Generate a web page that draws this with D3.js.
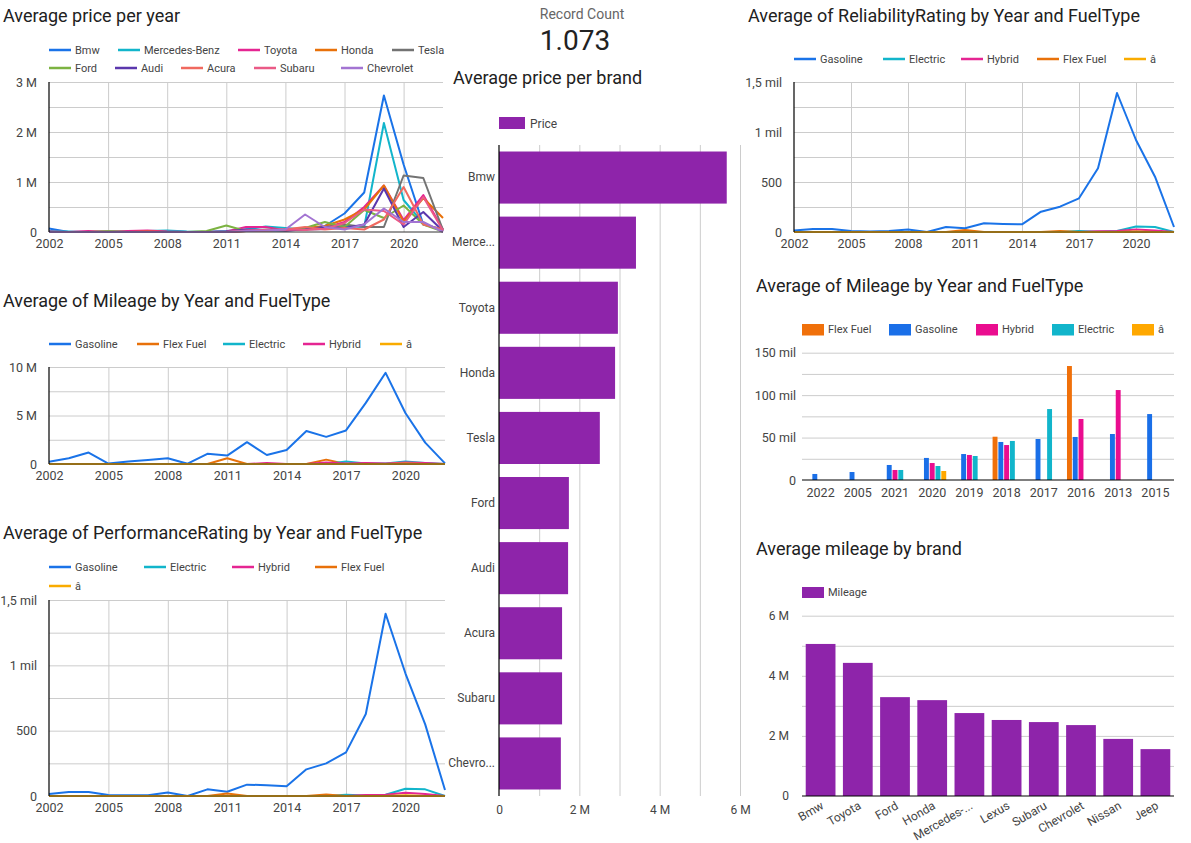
<!DOCTYPE html>
<html><head><meta charset="utf-8">
<script src="https://cdn.jsdelivr.net/npm/d3@7"></script>
<style>
body{margin:0;background:#fff}
svg{display:block;font-family:Roboto, "Noto Sans", sans-serif}
</style>
</head><body>
<svg id="c" width="1191" height="843"></svg>
<script>
// ---------- data ----------
const years = [2002,2003,2004,2005,2006,2007,2008,2009,2010,2011,2012,2013,2014,2015,2016,2017,2018,2019,2020,2021,2022];
const yearTicks = [2002,2005,2008,2011,2014,2017,2020];
const oddFuel = "\u00e2\u0080\u0093";

// Average price per year (millions)
const priceBrands = ["Bmw","Mercedes-Benz","Toyota","Honda","Tesla","Ford","Audi","Acura","Subaru","Chevrolet"];
const priceBmw      = [0.07,0.00,0.00,0.01,0.00,0.01,0.02,0.00,0.00,0.01,0.05,0.03,0.03,0.05,0.12,0.37,0.79,2.73,1.35,0.15,0.05];
const priceMercedes = [0.02,0.01,0.00,0.01,0.01,0.02,0.03,0.01,0.00,0.02,0.05,0.11,0.08,0.05,0.06,0.12,0.10,2.18,0.64,0.17,0.02];
const priceToyota   = [0.01,0.00,0.02,0.00,0.02,0.03,0.01,0.00,0.00,0.01,0.10,0.10,0.03,0.06,0.08,0.20,0.50,0.93,0.24,0.74,0.05];
const priceHonda    = [0.00,0.00,0.00,0.01,0.00,0.01,0.00,0.00,0.00,0.00,0.02,0.03,0.05,0.08,0.12,0.25,0.45,0.93,0.20,0.68,0.28];
const priceTesla    = [0.00,0.00,0.00,0.00,0.00,0.00,0.00,0.00,0.00,0.00,0.02,0.05,0.04,0.06,0.10,0.15,0.10,0.10,1.13,1.08,0.04];
const priceFord     = [0.00,0.00,0.00,0.01,0.00,0.00,0.00,0.00,0.02,0.13,0.02,0.04,0.03,0.08,0.20,0.10,0.44,0.28,0.53,0.15,0.01];
const priceAudi     = [0.00,0.00,0.00,0.00,0.00,0.00,0.00,0.00,0.00,0.01,0.05,0.04,0.03,0.05,0.10,0.08,0.15,0.87,0.10,0.40,0.02];
const priceAcura    = [0.00,0.00,0.00,0.00,0.00,0.00,0.00,0.00,0.00,0.00,0.02,0.03,0.05,0.10,0.05,0.08,0.05,0.25,0.90,0.15,0.05];
const priceSubaru   = [0.00,0.00,0.00,0.00,0.00,0.00,0.00,0.00,0.00,0.00,0.03,0.04,0.05,0.04,0.06,0.18,0.45,0.42,0.15,0.70,0.03];
const priceChevrolet= [0.00,0.00,0.00,0.00,0.00,0.00,0.00,0.00,0.00,0.00,0.02,0.03,0.05,0.35,0.10,0.05,0.15,0.47,0.20,0.20,0.00];
const priceBrandColors = ["#1a73e8","#12b5cb","#e52592","#e8710a","#737373","#7cb342","#5b37ad","#f0695f","#ea5a86","#a374d2"];

// Mileage by year and fuel type (millions)
const mileGas  = [0.24,0.60,1.18,0.05,0.25,0.42,0.60,0.03,1.05,0.87,2.25,0.93,1.45,3.40,2.80,3.46,6.30,9.40,5.26,2.20,0.07];
const mileFlex = [0,0,0,0,0,0,0,0,0,0.60,0,0,0,0,0.45,0,0,0,0,0,0];
const mileElec = [0,0,0,0,0,0,0,0,0,0,0,0,0,0,0,0.25,0.05,0.05,0.25,0.10,0];
const mileHyb  = [0,0,0,0,0,0,0,0,0,0,0,0.10,0,0,0.15,0.05,0.10,0.05,0.15,0.10,0];
const mileOdd  = [0,0,0,0,0,0,0,0,0,0,0,0,0,0,0,0,0,0,0.05,0,0];

// Performance rating by year and fuel type
const perfGas  = [15,31,31,8,5,5,26,0,51,33,87,82,74,204,250,334,628,1395,939,548,46];
const perfElec = [0,0,0,0,0,0,0,0,0,0,0,0,0,0,0,10,3,10,56,51,0];
const perfHyb  = [0,0,0,0,0,0,0,0,0,0,0,0,0,0,0,0,8,10,25,15,0];
const perfFlex = [0,0,0,0,0,0,0,0,0,20,0,0,0,0,12,0,0,0,0,0,0];
const perfOdd  = [0,0,0,0,0,0,0,0,0,0,0,0,0,0,0,0,0,0,5,0,0];

// Reliability rating by year and fuel type
const relGas  = [15,30,30,10,5,10,25,0,50,37,87,80,77,203,253,337,637,1390,920,553,50];
const relElec = [0,0,0,0,0,0,0,0,0,0,0,0,0,0,0,10,3,10,55,50,0];
const relHyb  = [0,0,0,0,0,0,0,0,0,0,0,0,0,0,0,0,8,10,25,15,0];
const relFlex = [0,0,0,0,0,0,0,0,0,20,0,0,0,0,10,0,0,0,0,0,0];
const relOdd  = [0,0,0,0,0,0,0,0,0,0,0,0,0,0,0,0,0,0,5,0,0];

// Record count
const recordCount = "1.073";

// Average price per brand (millions)
const barBrands = ["Bmw","Merce...","Toyota","Honda","Tesla","Ford","Audi","Acura","Subaru","Chevro..."];
const barPrices = [5.67,3.41,2.96,2.89,2.51,1.74,1.72,1.57,1.57,1.54];

// Average mileage by year and fuel type (thousands)
const groupYears = ["2022","2005","2021","2020","2019","2018","2017","2016","2013","2015"];
const groupFuels = ["Flex Fuel","Gasoline","Hybrid","Electric",oddFuel];
const groupFlex = [null,null,null,null,null,51,null,134.3,null,null];
const groupGas  = [7.1,9.4,17.7,26,30.6,44.8,48.3,50.7,54.2,77.7];
const groupHyb  = [null,null,11.8,20,29.5,41.2,null,71.9,106,null];
const groupElec = [null,null,11.8,16.5,28.3,46,83.6,null,null,null];
const groupOdd  = [null,null,null,10.6,null,null,null,null,null,null];
const groupColors = ["#f0700a","#1a6fe8","#ea0d8f","#12b5cb","#ffa800"];

// Average mileage by brand (millions)
const mileBrands = ["Bmw","Toyota","Ford","Honda","Mercedes-...","Lexus","Subaru","Chevrolet","Nissan","Jeep"];
const mileBrandVals = [5.06,4.43,3.29,3.19,2.76,2.53,2.46,2.36,1.90,1.56];

const purple = "#8e24aa";
const fuelColors = {"Gasoline":"#1a73e8","Electric":"#12b5cb","Hybrid":"#e52592","Flex Fuel":"#e8710a"};
fuelColors[oddFuel] = "#f9ab00";

// ---------- drawing ----------
const svg = d3.select("#c");
svg.append("rect").attr("width",1191).attr("height",843).attr("fill","#fff");
const GRID = "#cccccc", TXT = "#444", TITLE = "#212121";

function title(text,x,y){
  svg.append("text").attr("x",x).attr("y",y).attr("dominant-baseline","central")
    .attr("font-size",18).attr("fill",TITLE).text(text);
}

function lineLegend(items, positions){
  items.forEach((it,i)=>{
    const [lx,ly] = positions[i];
    svg.append("line").attr("x1",lx).attr("x2",lx+22).attr("y1",ly).attr("y2",ly)
      .attr("stroke",it.color).attr("stroke-width",2.5);
    svg.append("text").attr("x",lx+26).attr("y",ly).attr("dominant-baseline","central")
      .attr("font-size",11).attr("fill",TXT).text(it.name);
  });
}

function lineChart(c){
  const x = d3.scaleLinear().domain([years[0], years[years.length-1]]).range([c.x0,c.x1]);
  const y = d3.scaleLinear().domain([0,c.yMax]).range([c.yBot,c.yTop]);
  const g = svg.append("g");
  // horizontal grid
  g.append("g").attr("transform",`translate(${c.x0},0)`)
    .call(d3.axisLeft(y).tickValues(c.gridVals).tickSize(-(c.x1-c.x0)).tickFormat(""))
    .call(s=>{s.select(".domain").remove(); s.selectAll("line").attr("stroke",GRID);});
  // vertical grid
  g.append("g").attr("transform",`translate(0,${c.yTop})`)
    .call(d3.axisBottom(x).tickValues(yearTicks.slice(1)).tickSize(c.yBot-c.yTop).tickFormat(""))
    .call(s=>{s.select(".domain").remove(); s.selectAll("line").attr("stroke",GRID);});
  // y labels
  g.append("g").attr("transform",`translate(${c.x0},0)`)
    .call(d3.axisLeft(y).tickValues(c.labelVals).tickSize(0).tickPadding(12).tickFormat(c.yFmt))
    .call(s=>{s.select(".domain").remove(); s.selectAll("text").attr("font-size",12.5).attr("fill",TXT).attr("font-family","Roboto");});
  // x labels
  g.append("g").attr("transform",`translate(0,${c.yBot})`)
    .call(d3.axisBottom(x).tickValues(yearTicks).tickSize(0).tickPadding(7).tickFormat(d3.format("d")))
    .call(s=>{s.select(".domain").remove(); s.selectAll("text").attr("font-size",12.5).attr("fill",TXT).attr("font-family","Roboto");});
  // series
  const line = d3.line().x((d,i)=>x(years[i])).y(d=>y(d));
  c.series.forEach(s=>{
    g.append("path").attr("d",line(s.values)).attr("fill","none")
      .attr("stroke",s.color).attr("stroke-width",2).attr("stroke-linejoin","round");
  });
  // baseline + left axis
  g.append("line").attr("x1",c.x0).attr("x2",c.x1).attr("y1",c.yBot).attr("y2",c.yBot).attr("stroke","#333").attr("stroke-width",1);
  g.append("line").attr("x1",c.x0).attr("x2",c.x0).attr("y1",c.yTop).attr("y2",c.yBot).attr("stroke","#000").attr("stroke-width",1.2);
  lineLegend(c.series, c.legend);
}

const fmtM = d => d===0 ? "0" : d + " M";
const fmtMil = d => d===0 ? "0" : (d>=1000 ? String(d/1000).replace(".",",")+" mil" : String(d));

// Chart 1: Average price per year
title("Average price per year",3,15);
const priceSeriesVals = [priceBmw,priceMercedes,priceToyota,priceHonda,priceTesla,priceFord,priceAudi,priceAcura,priceSubaru,priceChevrolet];
lineChart({x0:49,x1:443,yTop:82,yBot:232,yMax:3,gridVals:[0.5,1,1.5,2,2.5,3],labelVals:[0,1,2,3],yFmt:fmtM,
  series: priceBrands.map((b,i)=>({name:b,values:priceSeriesVals[i],color:priceBrandColors[i]})),
  legend:[[49,50],[118,50],[238,50],[315,50],[392,50],[49,68],[115,68],[181,68],[254,68],[341,68]]});

// Chart 2: Average of Mileage by Year and FuelType
title("Average of Mileage by Year and FuelType",3,300);
lineChart({x0:49,x1:445,yTop:367,yBot:464,yMax:10,gridVals:[2.5,5,7.5,10],labelVals:[0,5,10],yFmt:fmtM,
  series:[{name:"Gasoline",values:mileGas,color:fuelColors["Gasoline"]},
          {name:"Flex Fuel",values:mileFlex,color:fuelColors["Flex Fuel"]},
          {name:"Electric",values:mileElec,color:fuelColors["Electric"]},
          {name:"Hybrid",values:mileHyb,color:fuelColors["Hybrid"]},
          {name:oddFuel,values:mileOdd,color:fuelColors[oddFuel]}],
  legend:[[49,344],[137,344],[223,344],[303,344],[380,344]]});

// Chart 3: Average of PerformanceRating
title("Average of PerformanceRating by Year and FuelType",3,532);
lineChart({x0:49,x1:445,yTop:600,yBot:796,yMax:1500,gridVals:[250,500,750,1000,1250,1500],labelVals:[0,500,1000,1500],yFmt:fmtMil,
  series:[{name:"Gasoline",values:perfGas,color:fuelColors["Gasoline"]},
          {name:"Electric",values:perfElec,color:fuelColors["Electric"]},
          {name:"Hybrid",values:perfHyb,color:fuelColors["Hybrid"]},
          {name:"Flex Fuel",values:perfFlex,color:fuelColors["Flex Fuel"]},
          {name:oddFuel,values:perfOdd,color:fuelColors[oddFuel]}],
  legend:[[49,567],[144,567],[232,567],[315,567],[49,586]]});

// Chart 4: Reliability
title("Average of ReliabilityRating by Year and FuelType",748,15);
lineChart({x0:794,x1:1174,yTop:82,yBot:232,yMax:1500,gridVals:[250,500,750,1000,1250,1500],labelVals:[0,500,1000,1500],yFmt:fmtMil,
  series:[{name:"Gasoline",values:relGas,color:fuelColors["Gasoline"]},
          {name:"Electric",values:relElec,color:fuelColors["Electric"]},
          {name:"Hybrid",values:relHyb,color:fuelColors["Hybrid"]},
          {name:"Flex Fuel",values:relFlex,color:fuelColors["Flex Fuel"]},
          {name:oddFuel,values:relOdd,color:fuelColors[oddFuel]}],
  legend:[[794,59],[883,59],[961,59],[1037,59],[1124,59]]});

// Record count
svg.append("text").attr("x",582).attr("y",14).attr("text-anchor","middle").attr("dominant-baseline","central")
  .attr("font-size",14).attr("fill","#666").text("Record Count");
svg.append("text").attr("x",575).attr("y",40).attr("text-anchor","middle").attr("dominant-baseline","central")
  .attr("font-size",28).attr("fill","#222").text(recordCount);

// Average price per brand (horizontal bars)
title("Average price per brand",453,77);
{
  const x = d3.scaleLinear().domain([0,6]).range([499,740]);
  const y = d3.scaleBand().domain(barBrands).range([145,796]).paddingInner(0.2).paddingOuter(0.1);
  svg.append("g").attr("transform","translate(0,145)")
    .call(d3.axisBottom(x).tickValues([1,2,3,4,5,6]).tickSize(651).tickFormat(""))
    .call(s=>{s.select(".domain").remove(); s.selectAll("line").attr("stroke",GRID);});
  svg.append("g").selectAll("rect").data(barPrices).join("rect")
    .attr("x",x(0)).attr("y",(d,i)=>y(barBrands[i])).attr("width",d=>x(d)-x(0)).attr("height",y.bandwidth())
    .attr("fill",purple);
  svg.append("g").attr("transform","translate(499,0)")
    .call(d3.axisLeft(y).tickSize(0).tickPadding(4))
    .call(s=>{s.select(".domain").remove(); s.selectAll("text").attr("font-size",12).attr("fill",TXT).attr("font-family","Roboto");});
  svg.append("g").attr("transform","translate(0,796)")
    .call(d3.axisBottom(x).tickValues([0,2,4,6]).tickSize(0).tickPadding(9).tickFormat(fmtM))
    .call(s=>{s.select(".domain").remove(); s.selectAll("text").attr("font-size",12).attr("fill",TXT).attr("font-family","Roboto");});
  svg.append("line").attr("x1",499).attr("x2",499).attr("y1",145).attr("y2",796).attr("stroke","#000").attr("stroke-width",1.2);
  svg.append("rect").attr("x",499).attr("y",117).attr("width",26).attr("height",12).attr("fill",purple);
  svg.append("text").attr("x",530).attr("y",123.5).attr("dominant-baseline","central").attr("font-size",12).attr("fill",TXT).text("Price");
}

// Average of Mileage by Year and FuelType (grouped bars)
title("Average of Mileage by Year and FuelType",756,285);
{
  const x = d3.scaleBand().domain(groupYears).range([802,1174]).paddingInner(0.2).paddingOuter(0.1);
  const x1 = d3.scaleBand().domain(groupFuels).range([0,x.bandwidth()]).padding(0.15);
  const y = d3.scaleLinear().domain([0,150]).range([480,352.7]);
  svg.append("g").attr("transform","translate(802,0)")
    .call(d3.axisLeft(y).tickValues([25,50,75,100,125,150]).tickSize(-372).tickFormat(""))
    .call(s=>{s.select(".domain").remove(); s.selectAll("line").attr("stroke",GRID);});
  svg.append("g").attr("transform","translate(802,0)")
    .call(d3.axisLeft(y).tickValues([0,50,100,150]).tickSize(0).tickPadding(6).tickFormat(d=>d===0?"0":d+" mil"))
    .call(s=>{s.select(".domain").remove(); s.selectAll("text").attr("font-size",12.5).attr("fill",TXT).attr("font-family","Roboto");});
  const groupVals = [groupFlex,groupGas,groupHyb,groupElec,groupOdd];
  groupVals.forEach((vals,si)=>{
    svg.append("g").selectAll("rect").data(vals.map((v,i)=>({v,i})).filter(d=>d.v!==null)).join("rect")
      .attr("x",d=>x(groupYears[d.i])+x1(groupFuels[si])).attr("width",x1.bandwidth())
      .attr("y",d=>y(d.v)).attr("height",d=>y(0)-y(d.v)).attr("fill",groupColors[si]);
  });
  svg.append("g").attr("transform","translate(0,480)")
    .call(d3.axisBottom(x).tickSize(0).tickPadding(8))
    .call(s=>{s.select(".domain").remove(); s.selectAll("text").attr("font-size",12.5).attr("fill",TXT).attr("font-family","Roboto");});
  svg.append("line").attr("x1",802).attr("x2",1174).attr("y1",480).attr("y2",480).attr("stroke","#000").attr("stroke-width",1.2);
  const lx = [802,889,976,1052,1132];
  groupFuels.forEach((f,i)=>{
    svg.append("rect").attr("x",lx[i]).attr("y",324).attr("width",22).attr("height",11.5).attr("fill",groupColors[i]);
    svg.append("text").attr("x",lx[i]+26).attr("y",329.5).attr("dominant-baseline","central").attr("font-size",11).attr("fill",TXT).text(f);
  });
}

// Average mileage by brand
title("Average mileage by brand",756,548);
{
  const x = d3.scaleBand().domain(mileBrands).range([802,1174]).paddingInner(0.2).paddingOuter(0.1);
  const y = d3.scaleLinear().domain([0,6]).range([796,615.7]);
  svg.append("g").attr("transform","translate(802,0)")
    .call(d3.axisLeft(y).tickValues([1,2,3,4,5,6]).tickSize(-372).tickFormat(""))
    .call(s=>{s.select(".domain").remove(); s.selectAll("line").attr("stroke",GRID);});
  svg.append("g").attr("transform","translate(802,0)")
    .call(d3.axisLeft(y).tickValues([0,2,4,6]).tickSize(0).tickPadding(13).tickFormat(fmtM))
    .call(s=>{s.select(".domain").remove(); s.selectAll("text").attr("font-size",12).attr("fill",TXT).attr("font-family","Roboto");});
  svg.append("g").selectAll("rect").data(mileBrandVals).join("rect")
    .attr("x",(d,i)=>x(mileBrands[i])).attr("width",x.bandwidth())
    .attr("y",d=>y(d)).attr("height",d=>y(0)-y(d)).attr("fill",purple);
  svg.append("g").attr("transform","translate(0,796)")
    .call(d3.axisBottom(x).tickSize(0).tickPadding(0).tickFormat(d=>d))
    .call(s=>{s.select(".domain").remove();
      s.selectAll("text").attr("font-size",12).attr("fill",TXT).attr("font-family","Roboto")
        .attr("text-anchor","end").attr("dy",null).attr("y",0)
        .attr("transform","translate(4,12) rotate(-30)");});
  svg.append("line").attr("x1",802).attr("x2",1174).attr("y1",796).attr("y2",796).attr("stroke","#000").attr("stroke-width",1.2);
  svg.append("rect").attr("x",802).attr("y",587).attr("width",22).attr("height",11).attr("fill",purple);
  svg.append("text").attr("x",828).attr("y",592.5).attr("dominant-baseline","central").attr("font-size",11).attr("fill",TXT).text("Mileage");
}
</script>
</body></html>
